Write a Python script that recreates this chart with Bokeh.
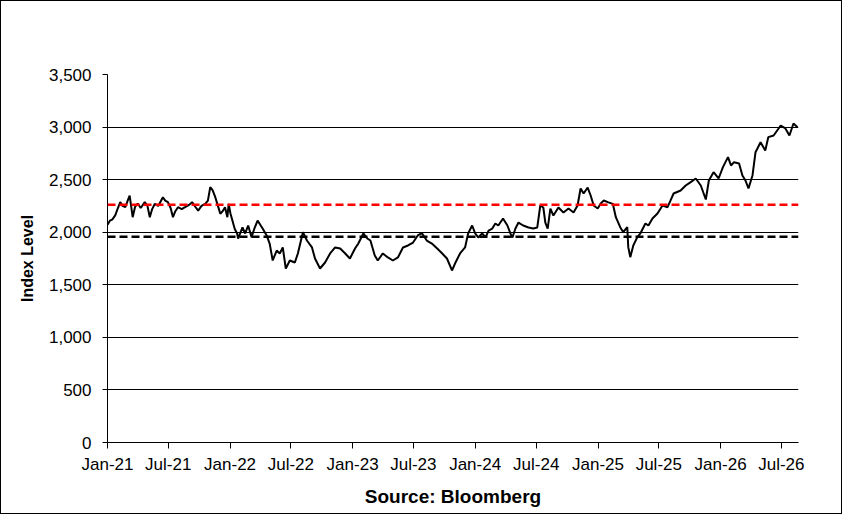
import pandas as pd
from bokeh.plotting import figure
from bokeh.models import Range1d, FixedTicker, Span, NumeralTickFormatter
from bokeh.embed import file_html
from bokeh.resources import INLINE

dates = [
    "2021-01-01","2021-01-08","2021-01-15","2021-01-24","2021-02-01","2021-02-08","2021-02-15","2021-02-23",
    "2021-03-01","2021-03-08","2021-03-17","2021-03-24","2021-04-01","2021-04-10","2021-04-22","2021-04-30",
    "2021-05-07","2021-05-14","2021-05-22","2021-06-01","2021-06-15","2021-06-22","2021-06-30","2021-07-08",
    "2021-07-15","2021-07-22","2021-07-30","2021-08-10","2021-08-20","2021-09-01","2021-09-10","2021-09-20",
    "2021-09-28","2021-10-08","2021-10-19","2021-10-27","2021-11-03","2021-11-10","2021-11-18","2021-11-25",
    "2021-12-03","2021-12-10","2021-12-17","2021-12-24","2021-12-28","2022-01-02",
    "2022-01-08","2022-01-15","2022-01-22","2022-01-25","2022-02-07","2022-02-15","2022-02-24","2022-03-06",
    "2022-03-15","2022-03-24","2022-04-08","2022-04-20","2022-04-29","2022-05-08","2022-05-20","2022-05-29",
    "2022-06-07","2022-06-16","2022-06-28","2022-07-13","2022-07-22","2022-08-06","2022-08-18","2022-09-02",
    "2022-09-11","2022-09-26","2022-10-11","2022-10-26","2022-11-10","2022-11-25","2022-12-10","2022-12-24",
    "2023-01-09","2023-01-18","2023-02-02","2023-02-14","2023-02-23","2023-03-08","2023-03-17","2023-04-01",
    "2023-04-16","2023-05-01","2023-05-16","2023-05-31","2023-06-15","2023-06-30","2023-07-14","2023-07-26",
    "2023-08-10","2023-08-25","2023-09-10","2023-09-25","2023-10-09","2023-10-24","2023-11-02","2023-11-17",
    "2023-12-02","2023-12-11","2023-12-23","2024-01-01","2024-01-10","2024-01-22","2024-02-01","2024-02-10",
    "2024-02-21","2024-03-01","2024-03-10","2024-03-24","2024-04-06","2024-04-15","2024-04-21","2024-04-30",
    "2024-05-09","2024-05-23","2024-06-08","2024-06-22","2024-07-04","2024-07-13","2024-07-22","2024-07-28",
    "2024-08-04","2024-08-12","2024-08-21","2024-09-05","2024-09-20","2024-10-05","2024-10-20","2024-11-01",
    "2024-11-10","2024-11-19","2024-12-01","2024-12-10","2024-12-19","2024-12-31","2025-01-09","2025-01-18",
    "2025-01-30","2025-02-14","2025-02-23","2025-03-08","2025-03-17","2025-03-29","2025-04-01","2025-04-07",
    "2025-04-16","2025-04-28","2025-05-07","2025-05-22","2025-05-31","2025-06-12","2025-06-27","2025-07-12",
    "2025-07-27","2025-08-05","2025-08-14","2025-09-04","2025-09-19","2025-10-04","2025-10-19","2025-11-03",
    "2025-11-18","2025-11-27","2025-12-11","2025-12-26","2026-01-08","2026-01-23","2026-02-01","2026-02-10",
    "2026-02-25","2026-03-07","2026-03-16","2026-03-25","2026-04-06","2026-04-15","2026-04-30","2026-05-14",
    "2026-05-23","2026-06-08","2026-06-29","2026-07-13","2026-07-25","2026-08-06","2026-08-18",
]
index_level = [
    2070, 2110, 2120, 2160, 2230, 2286, 2250, 2238,
    2290, 2349, 2143, 2240, 2273, 2230, 2286, 2250,
    2143, 2220, 2270, 2250, 2333, 2300, 2286, 2230,
    2143, 2200, 2238, 2220, 2238, 2260, 2286, 2240,
    2206, 2250, 2270, 2300, 2428, 2400, 2333, 2260,
    2175, 2200, 2238, 2143, 2270, 2180,
    2111, 2030, 1988, 1940, 2045, 1988, 2064, 1953,
    2040, 2111, 2035, 1969, 1892, 1731, 1826, 1798,
    1855, 1655, 1731, 1712, 1798, 2000, 1921, 1855,
    1750, 1655, 1712, 1798, 1855, 1845, 1798, 1750,
    1850, 1892, 1988, 1940, 1921, 1779, 1731, 1798,
    1760, 1731, 1760, 1855, 1874, 1902, 1969, 1991,
    1921, 1892, 1845, 1798, 1750, 1636, 1702, 1798,
    1855, 1988, 2064, 1988, 1950, 1988, 1950, 2016,
    2035, 2083, 2064, 2130, 2064, 1988, 1950, 2035,
    2092, 2064, 2045, 2035, 2045, 2254, 2235, 2092,
    2035, 2225, 2159, 2235, 2188, 2225, 2188, 2254,
    2416, 2368, 2425, 2349, 2254, 2225, 2273, 2302,
    2286, 2270, 2143, 2048, 2000, 2048, 1858, 1763,
    1874, 1953, 1988, 2083, 2064, 2130, 2178, 2254,
    2238, 2302, 2368, 2397, 2444, 2476, 2511, 2444,
    2311, 2492, 2571, 2511, 2619, 2714, 2635, 2666,
    2654, 2540, 2492, 2416, 2540, 2761, 2856, 2777,
    2904, 2920, 3015, 2987, 2920, 3034, 2999,
]
red_level = 2262
black_level = 1957
y_ticks = [0, 500, 1000, 1500, 2000, 2500, 3000, 3500]
x_tick_dates = ["2021-01-01","2021-07-01","2022-01-01","2022-07-01","2023-01-01","2023-07-01",
                "2024-01-01","2024-07-01","2025-01-01","2025-07-01","2026-01-01","2026-07-01"]
x_tick_labels = ["Jan-21","Jul-21","Jan-22","Jul-22","Jan-23","Jul-23",
                 "Jan-24","Jul-24","Jan-25","Jul-25","Jan-26","Jul-26"]
x_start = "2021-01-01"
x_end = "2026-08-21"

x = pd.to_datetime(dates)

p = figure(frame_width=691, frame_height=368, x_axis_type="datetime",
           output_backend="svg", toolbar_location=None,
           min_border_left=106, min_border_right=43, min_border_top=73, min_border_bottom=71,
           x_range=Range1d(pd.Timestamp(x_start), pd.Timestamp(x_end)),
           y_range=Range1d(0, 3500),
           styles={"border": "1px solid black"})
p.outline_line_color = None
p.background_fill_color = "white"
p.border_fill_color = "white"

p.xgrid.visible = False
p.ygrid.grid_line_color = "black"
p.ygrid.grid_line_width = 1
p.ygrid.ticker = FixedTicker(ticks=y_ticks)

p.yaxis.ticker = FixedTicker(ticks=y_ticks)
p.yaxis.formatter = NumeralTickFormatter(format="0,0")
p.yaxis.axis_label = "Index Level"

tick_ms = [pd.Timestamp(d).value // 10**6 for d in x_tick_dates]
p.xaxis.ticker = FixedTicker(ticks=tick_ms)
p.xaxis.major_label_overrides = {t: l for t, l in zip(tick_ms, x_tick_labels)}
p.xaxis.axis_label = "Source: Bloomberg"

for ax in (p.xaxis[0], p.yaxis[0]):
    ax.axis_line_color = "black"
    ax.axis_line_width = 1
    ax.major_tick_line_color = "black"
    ax.major_tick_in = 0
    ax.minor_tick_line_color = None
    ax.major_label_text_font = "Liberation Sans"
    ax.major_label_text_font_size = "17px"
    ax.major_label_text_color = "black"
    ax.axis_label_text_font = "Liberation Sans"
    ax.axis_label_text_font_style = "bold"
    ax.axis_label_text_color = "black"

p.xaxis.major_tick_out = 6
p.yaxis.major_tick_out = 5
p.xaxis.major_label_standoff = 6
p.yaxis.major_label_standoff = 11
p.xaxis.axis_label_text_font_size = "19px"
p.yaxis.axis_label_text_font_size = "16px"
p.xaxis.axis_label_standoff = 9
p.yaxis.axis_label_standoff = 10

p.add_layout(Span(location=red_level, dimension="width", line_color="#ff0000",
                  line_width=2.5, line_dash="8 4"))
p.add_layout(Span(location=black_level, dimension="width", line_color="black",
                  line_width=2.5, line_dash="8 4"))

p.line(x, index_level, line_color="black", line_width=2)

open("out.html", "w").write(file_html(p, INLINE))
